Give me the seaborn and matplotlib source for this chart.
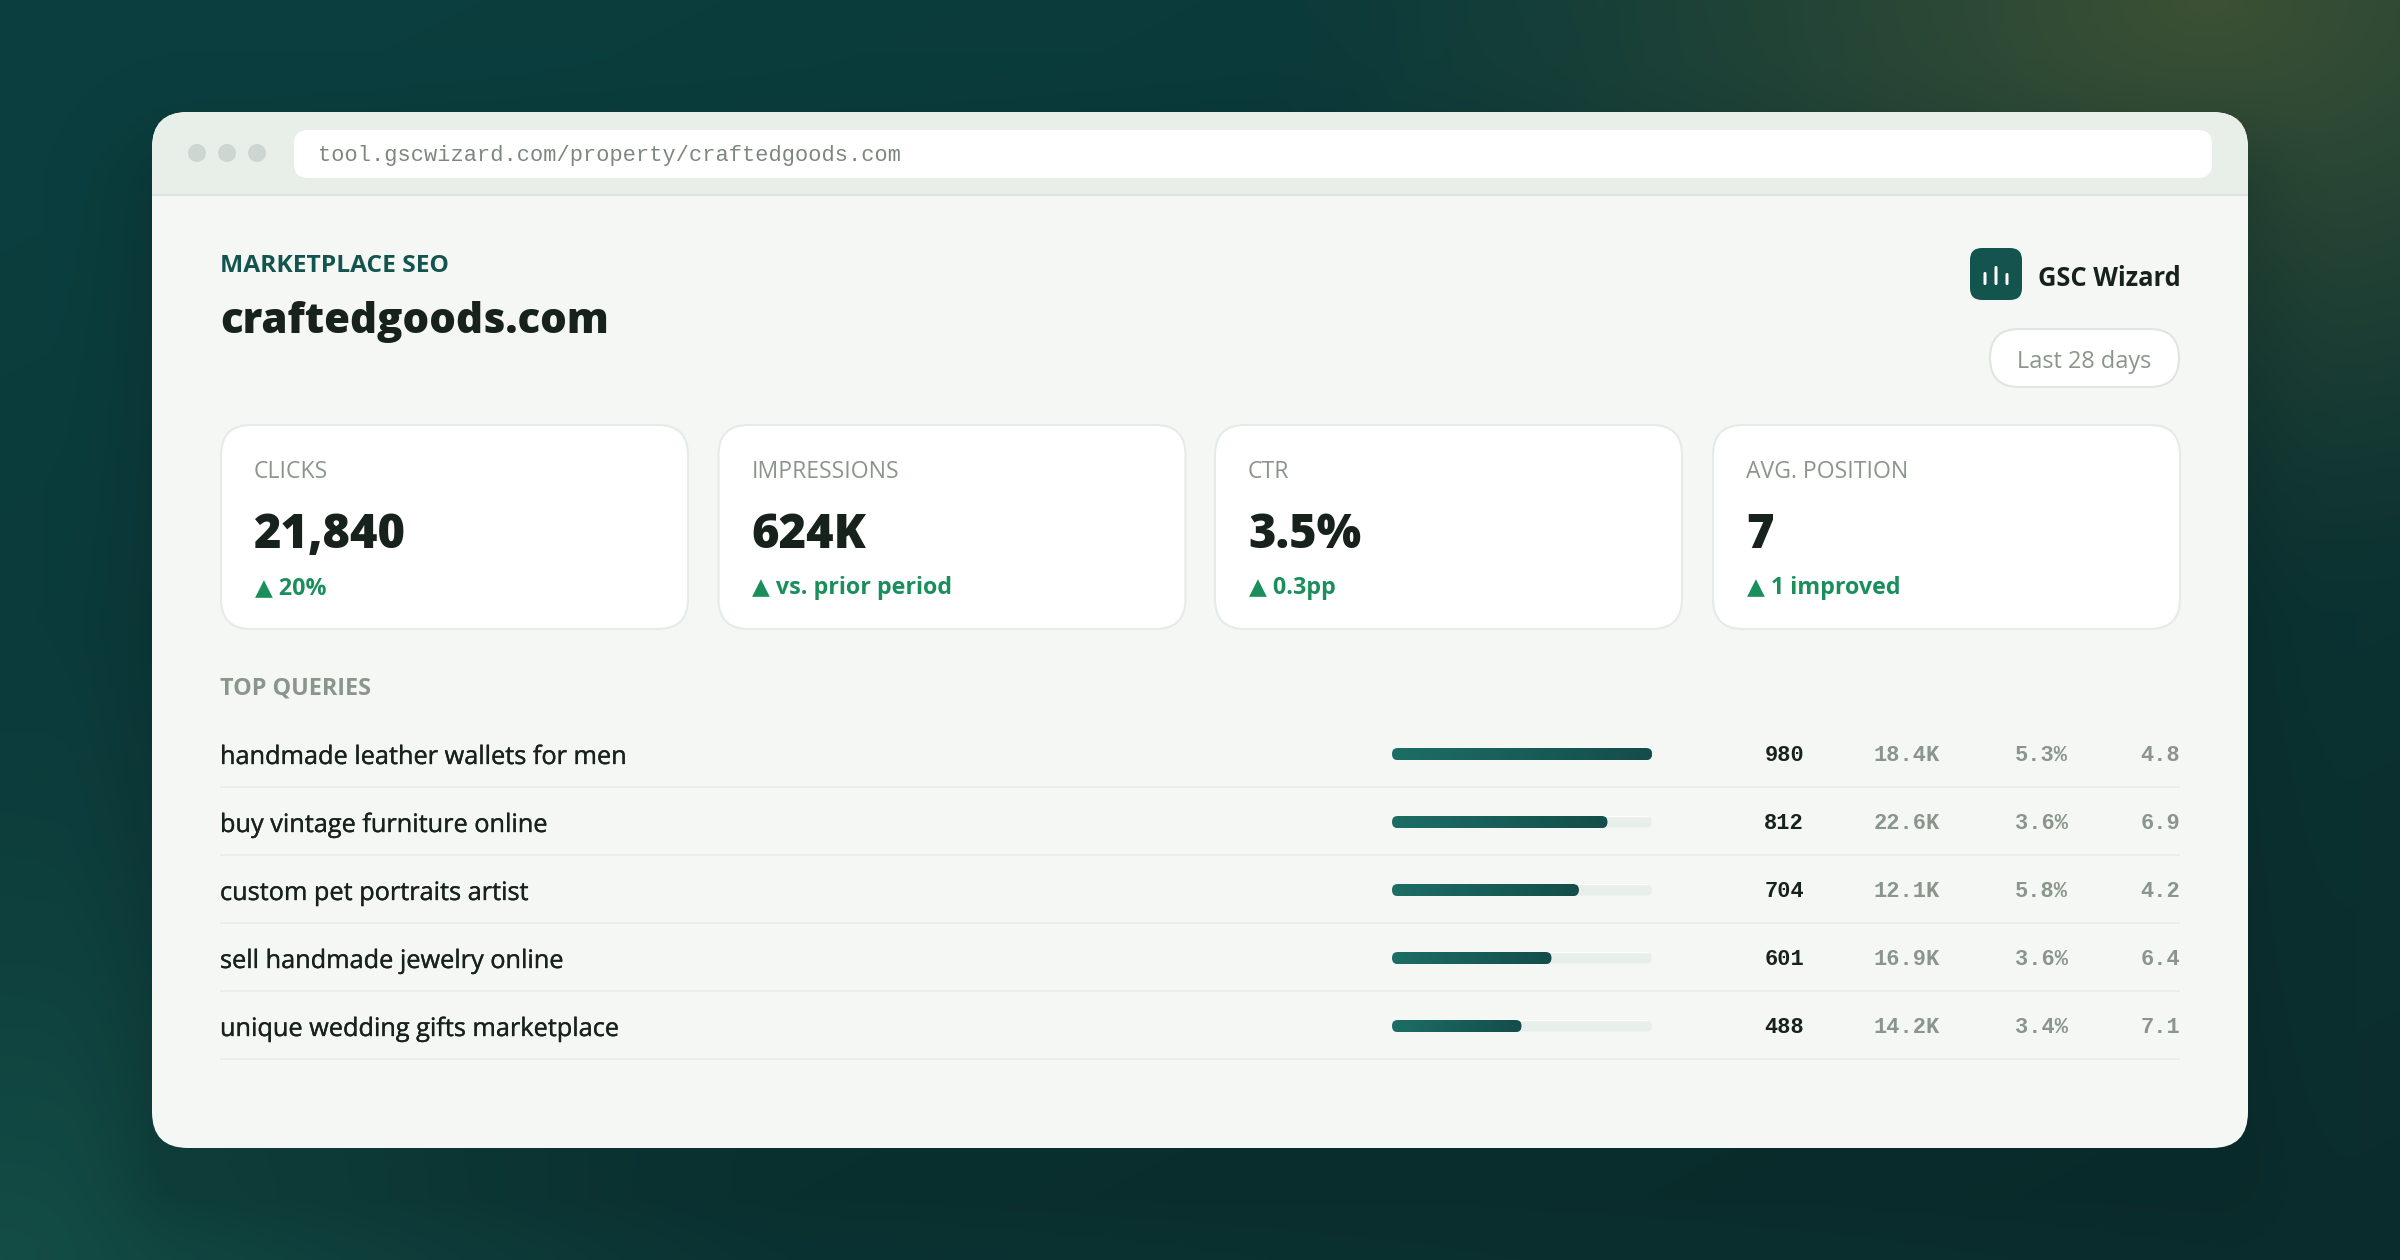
import numpy as np
import matplotlib
matplotlib.use("Agg")
import matplotlib.pyplot as plt
import matplotlib.patheffects as pe
from matplotlib.colors import to_rgb, LinearSegmentedColormap
from matplotlib.patches import FancyBboxPatch, Rectangle, Circle
import seaborn as sns

# data
queries = ["handmade leather wallets for men", "buy vintage furniture online", "custom pet portraits artist",
           "sell handmade jewelry online", "unique wedding gifts marketplace"]
clicks = [980, 812, 704, 601, 488]
impressions = ["18.4K", "22.6K", "12.1K", "16.9K", "14.2K"]
ctr = ["5.3%", "3.6%", "5.8%", "3.6%", "3.4%"]
positions = ["4.8", "6.9", "4.2", "6.4", "7.1"]

kpi_labels = ["CLICKS", "IMPRESSIONS", "CTR", "AVG. POSITION"]
kpi_values = ["21,840", "624K", "3.5%", "7"]
kpi_deltas = ["20%", "vs. prior period", "0.3pp", "1 improved"]

url = "tool.gscwizard.com/property/craftedgoods.com"

INK = "#18221d"
GRAY = "#8a968b"
GREEN = "#1a8f5c"
TEAL = "#14544f"
SANS = ["Open Sans", "DejaVu Sans"]
MONO = "Liberation Mono"

sns.set_theme(style="white")
plt.rcParams["font.family"] = SANS

W, H = 2400, 1260
fig = plt.figure(figsize=(W / 100, H / 100), dpi=100)

ax = fig.add_axes([0, 0, 1, 1])


def text(x, y, s, px, color=INK, weight="normal", ha="left", family=None, stroke=0):
    t = ax.text(x, y, s, fontsize=px * 0.72, color=color, fontweight=weight, ha=ha, va="baseline",
                family=family if family else SANS)
    if stroke:
        # open sans has no medium weight, thicken the regular one a bit
        t.set_path_effects([pe.withStroke(linewidth=stroke, foreground=color)])


def rbox(x, y, w, h, r, fc, ec="none", lw=0, z=1):
    p = FancyBboxPatch((x, y), w, h, boxstyle=f"round,pad=0,rounding_size={r}", fc=fc, ec=ec, lw=lw, zorder=z)
    ax.add_patch(p)
    return p


# page background: diagonal base with two soft glows
def background():
    yy, xx = np.mgrid[0:H, 0:W]
    t = ((xx / W + yy / H) / 2)[..., None]
    img = np.array(to_rgb("#0b4040")) * (1 - t) + np.array(to_rgb("#0b2c2c")) * t
    d1 = np.hypot((xx - 0.92 * W) / 950, (yy - 0) / 620)
    a1 = (np.clip(1 - d1, 0, 1) ** 1.3)[..., None] * 0.9
    img = img * (1 - a1) + np.array(to_rgb("#425434")) * a1
    d2 = np.hypot((xx - 0) / 800, (yy - H) / 650)
    a2 = (np.clip(1 - d2, 0, 1) ** 1.3)[..., None] * 0.8
    img = img * (1 - a2) + np.array(to_rgb("#16534a")) * a2
    # window shadow, pushed down a little
    qx = np.abs(xx - 1200) - (1048 - 36)
    qy = np.abs(yy - 680) - (518 - 36)
    sd = np.hypot(np.maximum(qx, 0), np.maximum(qy, 0)) + np.minimum(np.maximum(qx, qy), 0) - 36
    s = (np.clip(1 - sd / 110, 0, 1) ** 2)[..., None] * 0.22
    img = img * (1 - s) + np.array(to_rgb("#06201f")) * s
    return img


ax.imshow(background(), extent=(0, W, H, 0), aspect="auto", zorder=0, interpolation="bilinear")

# window and title bar
window = rbox(152, 112, 2096, 1036, 36, "#f5f7f4")
bar_top = Rectangle((152, 112), 2096, 83, fc="#e8efe9", ec="none", zorder=1.1)
ax.add_patch(bar_top)
bar_top.set_clip_path(window)
line = Rectangle((152, 194), 2096, 2, fc="#dde5e0", ec="none", zorder=1.2)
ax.add_patch(line)
for cx in (197, 227, 257):
    ax.add_patch(Circle((cx, 153), 9, fc="#cdd6d0", ec="none", zorder=2))
rbox(294, 130, 1918, 48, 14, "white", z=2)
text(318, 161, url, 22, "#7c877e", family=MONO)

# header
text(220, 272, "MARKETPLACE SEO", 24.5, TEAL, "bold")
text(220, 333, "craftedgoods.com", 42, INK, 800)

rbox(1970, 248, 52, 52, 12, TEAL, z=2)
for bx, top in ((1985, 272), (1996, 266), (2007, 273)):
    rbox(bx - 1.5, top, 3, 285 - top, 1.5, "white", z=3)
text(2038, 286, "GSC Wizard", 25.5, INK, "bold")
rbox(1990, 329, 189, 58, 29, "white", "#dfe6e1", 1.5, z=2)
text(2084, 368, "Last 28 days", 23.5, GRAY, ha="center")

# kpi cards
card_x = [221, 718.5, 1215, 1713]
for cx, lab, val, dl in zip(card_x, kpi_labels, kpi_values, kpi_deltas):
    rbox(cx, 425, 467, 204, 30, "white", "#e5ebe7", 1.5, z=2)
    text(cx + 33, 478, lab, 23, GRAY)
    text(cx + 33, 548, val, 47, INK, 800)
    text(cx + 34, 594, "▲ " + dl, 23.3, GREEN, "bold")

text(220, 694, "TOP QUERIES", 23.4, GRAY, "bold")

# rows
for i, q in enumerate(queries):
    base = 764 + 68 * i
    text(220, base, q, 25.3, INK, stroke=0.25)
    text(1804, base - 3, str(clicks[i]), 22, INK, "bold", "right", MONO)
    text(1940, base - 3, impressions[i], 22, GRAY, "bold", "right", MONO)
    text(2068, base - 3, ctr[i], 22, GRAY, "bold", "right", MONO)
    text(2180, base - 3, positions[i], 22, GRAY, "bold", "right", MONO)
    ax.add_patch(Rectangle((220, base + 22), 1960, 2, fc="#e8efeb", ec="none", zorder=2))

ax.set_xlim(0, W)
ax.set_ylim(H, 0)
ax.axis("off")

# click bars, one category per row
bx = fig.add_axes([1392 / W, 1 - 1060 / H, 260 / W, 340 / H], zorder=5)
bx.patch.set_alpha(0)
full = [max(clicks)] * len(clicks)
sns.barplot(x=full, y=queries, orient="h", color="#e8efea", saturation=1, width=12 / 68, ax=bx)
sns.barplot(x=clicks, y=queries, orient="h", color="#1a625b", saturation=1, width=12 / 68, ax=bx)
bx.set_xlim(0, max(clicks))
bx.set_ylim(4.5, -0.5)
bx.set_xlabel("")
bx.set_ylabel("")
bx.set_xticks([])
bx.set_yticks([])
sns.despine(ax=bx, left=True, bottom=True)

fig.canvas.draw()
cmap = LinearSegmentedColormap.from_list("fill", ["#1d6e65", "#144d4a"])
n = len(clicks)
to_px = ax.transData.inverted()
for k, b in enumerate(bx.patches):
    e = b.get_window_extent()
    (x0, y1), (x1, y0) = to_px.transform([(e.x0, e.y0), (e.x1, e.y1)])
    round_clip = FancyBboxPatch((x0, y0), x1 - x0, y1 - y0, boxstyle="round,pad=0,rounding_size=6",
                                transform=ax.transData)
    b.set_clip_path(round_clip)
    if k >= n:
        im = bx.imshow(np.linspace(0, 1, 256).reshape(1, -1), cmap=cmap, aspect="auto", zorder=3,
                       extent=(b.get_x(), b.get_x() + b.get_width(),
                               b.get_y() + b.get_height(), b.get_y()))
        im.set_clip_path(round_clip)
bx.set_xlim(0, max(clicks))
bx.set_ylim(4.5, -0.5)

fig.savefig("out.png", dpi=100)
